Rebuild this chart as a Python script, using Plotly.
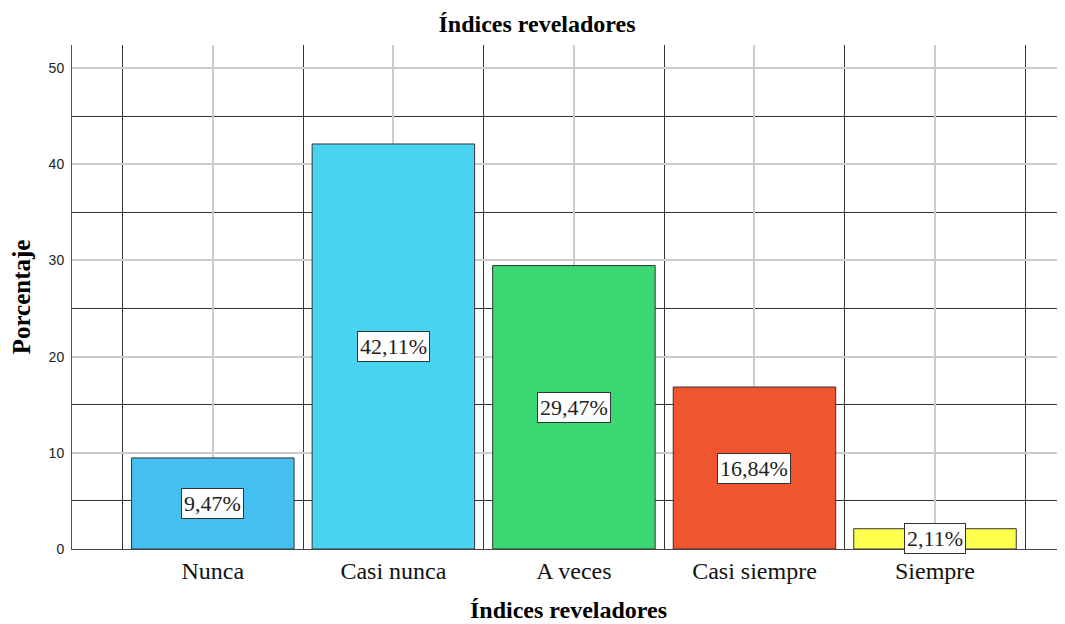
import plotly.graph_objects as go

# datos del grafico
categorias = ["Nunca", "Casi nunca", "A veces", "Casi siempre", "Siempre"]
porcentajes = [9.47, 42.11, 29.47, 16.84, 2.11]
etiquetas = ["9,47%", "42,11%", "29,47%", "16,84%", "2,11%"]
colores = ["#44BFF0", "#48D4F0", "#3AD873", "#F15530", "#FFFF4D"]

posiciones = list(range(len(categorias)))

SERIF = "Liberation Serif, Times New Roman, serif"

fig = go.Figure()
fig.add_trace(go.Bar(
    x=posiciones, y=porcentajes,
    marker=dict(color=colores, line=dict(color="#333333", width=1)),
    width=0.9, hoverinfo="x+y",
))

# etiquetas dentro de cada barra (caja blanca con borde)
for xi, v, t in zip(posiciones, porcentajes, etiquetas):
    fig.add_annotation(
        x=xi, y=v / 2, text=t, showarrow=False,
        font=dict(family=SERIF, size=22, color="#222222"),
        bgcolor="white", bordercolor="#333333", borderwidth=1, borderpad=2,
    )

# la pagina tiene 8px de margen en el body
fig.update_layout(
    width=1057, height=616,
    margin=dict(l=64, r=0, t=37, b=75, autoexpand=False),
    paper_bgcolor="white", plot_bgcolor="white",
    showlegend=False,
    title=dict(text="<b>Índices reveladores</b>", x=0.5005, xanchor="center", y=0.974, yanchor="middle",
               font=dict(family=SERIF, size=24, color="black"), automargin=False),
    xaxis=dict(
        range=[-0.78, 4.72], automargin=False,
        tickmode="array", tickvals=posiciones, ticktext=categorias,
        tickfont=dict(family=SERIF, size=24, color="#111111"),
        showgrid=True, gridcolor="#CCCCCC", gridwidth=2,
        minor=dict(tick0=0.5, dtick=1, showgrid=True, gridcolor="#333333", gridwidth=1.4),
        showline=True, linecolor="#444444", linewidth=1,
        zeroline=False, ticks="",
        title=dict(text="<b>Índices reveladores</b>", font=dict(family=SERIF, size=24, color="black"), standoff=18),
    ),
    yaxis=dict(
        range=[0, 52.4], automargin=False,
        tick0=0, dtick=10,
        tickfont=dict(family="Liberation Sans, Arial, sans-serif", size=14, color="#222222"),
        showgrid=True, gridcolor="#CCCCCC", gridwidth=2,
        minor=dict(tick0=0, dtick=5, showgrid=True, gridcolor="#333333", gridwidth=1.4),
        showline=True, linecolor="#555555", linewidth=1,
        zeroline=False, ticks="", ticklabelstandoff=4,
        title=dict(text="<b>Porcentaje</b>", font=dict(family=SERIF, size=25, color="black"), standoff=16),
    ),
)

fig.write_html("out.html")
